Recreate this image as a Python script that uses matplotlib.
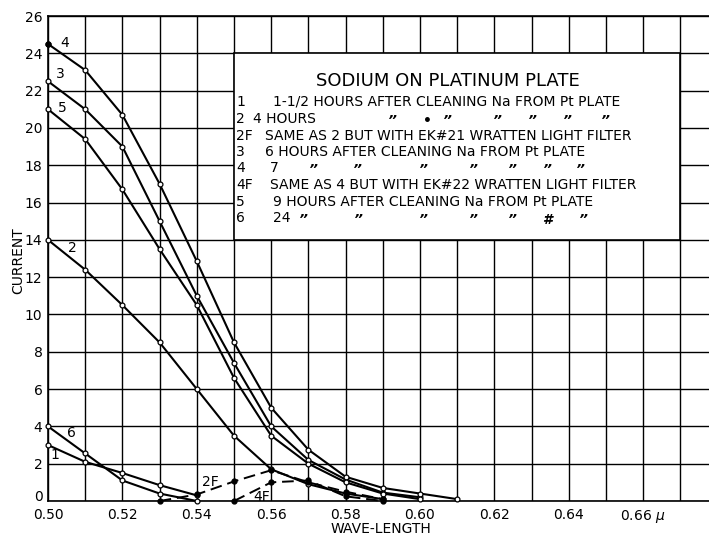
import matplotlib
matplotlib.use("Agg")
import matplotlib.pyplot as plt
from matplotlib.patches import Rectangle
from matplotlib.transforms import ScaledTranslation

# === Data (wave-length in microns, current in arbitrary units)
wl_1 = [0.50, 0.51, 0.52, 0.53, 0.54]
cur_1 = [3.0, 2.1, 1.5, 0.85, 0.3]

wl_6 = [0.50, 0.51, 0.52, 0.53, 0.54]
cur_6 = [4.0, 2.55, 1.1, 0.4, 0.0]

wl_2 = [0.50, 0.51, 0.52, 0.53, 0.54, 0.55, 0.56, 0.57, 0.58, 0.59]
cur_2 = [14.0, 12.4, 10.5, 8.5, 6.0, 3.5, 1.7, 0.9, 0.4, 0.1]

wl_2f = [0.53, 0.54, 0.55, 0.56, 0.57, 0.58, 0.59]
cur_2f = [0.0, 0.35, 1.05, 1.65, 1.0, 0.5, 0.1]

wl_4f = [0.55, 0.56, 0.57, 0.58, 0.59]
cur_4f = [0.0, 1.0, 1.1, 0.25, 0.0]

wl_3 = [0.50, 0.51, 0.52, 0.53, 0.54, 0.55, 0.56, 0.57, 0.58, 0.59, 0.60]
cur_3 = [22.5, 21.0, 19.0, 15.0, 11.0, 7.4, 4.0, 2.2, 1.15, 0.45, 0.2]

wl_4 = [0.50, 0.51, 0.52, 0.53, 0.54, 0.55, 0.56, 0.57, 0.58, 0.59, 0.60, 0.61]
cur_4 = [24.5, 23.1, 20.7, 17.0, 12.85, 8.5, 5.0, 2.75, 1.3, 0.7, 0.4, 0.1]

wl_5 = [0.50, 0.51, 0.52, 0.53, 0.54, 0.55, 0.56, 0.57, 0.58, 0.59, 0.60]
cur_5 = [21.0, 19.4, 16.7, 13.5, 10.5, 6.6, 3.5, 2.0, 1.0, 0.4, 0.1]

x_ticks = [0.50 + 0.01 * i for i in range(18)]
x_labels = ["0.50", "", "0.52", "", "0.54", "", "0.56", "", "0.58", "", "0.60", "",
            "0.62", "", "0.64", "", "0.66 $\\mu$", ""]
y_ticks = list(range(0, 27, 2))

legend_keys = ["1", "2", "2F", "3", "4", "4F", "5", "6"]
legend_texts = [
    "1-1/2 HOURS AFTER CLEANING Na FROM Pt PLATE",
    "4 HOURS",
    "SAME AS 2 BUT WITH EK#21 WRATTEN LIGHT FILTER",
    "6 HOURS AFTER CLEANING Na FROM Pt PLATE",
    "7",
    "SAME AS 4 BUT WITH EK#22 WRATTEN LIGHT FILTER",
    "9 HOURS AFTER CLEANING Na FROM Pt PLATE",
    "24",
]

W, H = 709, 538
X0, Y0 = 48, 501          # pixel of (0.50, 0)
PX_X, PX_Y = 3720, 18.65  # pixels per unit


def px(xp, yp):
    return 0.50 + (xp - X0) / PX_X, (Y0 - yp) / PX_Y


fig = plt.figure(figsize=(W / 100, H / 100), dpi=100)
ax = fig.add_axes([X0 / W, (H - Y0) / H, (W - X0) / W, (Y0 - 16) / H])
ax.set_xlim(0.50, 0.50 + (W - X0) / PX_X)
ax.set_ylim(0, 26)

ax.set_xticks(x_ticks)
ax.set_xticklabels(x_labels, fontsize=10)
ax.set_yticks(y_ticks)
ax.set_yticklabels([str(v) for v in y_ticks], fontsize=10)
ax.tick_params(length=0, pad=4)
ax.tick_params(axis="x", pad=5)
# lift the "0" a little so it clears "0.50"
zero_lbl = ax.get_yticklabels()[0]
zero_lbl.set_transform(zero_lbl.get_transform()
                       + ScaledTranslation(0, 4 / 72, fig.dpi_scale_trans))
ax.grid(True, color="black", linewidth=1.0)
ax.set_axisbelow(True)
for s in ["left", "bottom", "top"]:
    ax.spines[s].set_linewidth(1.2)
ax.spines["right"].set_visible(False)

# legend box sits on the grid and hides it
ax.add_patch(Rectangle((0.55, 14), 0.12, 10, facecolor="white",
                       edgecolor="black", linewidth=1.2, zorder=1.5))

solid = dict(color="black", linewidth=1.5, marker="o", markersize=3.5,
             markerfacecolor="white", markeredgewidth=0.9, zorder=3,
             clip_on=False)
dashed = dict(color="black", linewidth=1.4, linestyle=(0, (6, 3)), marker="o",
              markersize=3.5, markerfacecolor="black", zorder=3, clip_on=False)

ax.plot(wl_1, cur_1, **solid)
ax.plot(wl_6, cur_6, **solid)
ax.plot(wl_2, cur_2, **solid)
ax.plot(wl_3, cur_3, **solid)
ax.plot(wl_4, cur_4, **solid)
ax.plot(wl_5, cur_5, **solid)
ax.plot(wl_2f, cur_2f, **dashed)
ax.plot(wl_4f, cur_4f, **dashed)
ax.plot(wl_4[:1], cur_4[:1], "o", color="black", markersize=3.5, zorder=4,
        clip_on=False)

# curve numbers
for lab, (xp, yp) in zip(["4", "3", "5", "2", "6", "1", "2F", "4F"],
                         [(65, 43), (60, 74), (62, 108), (72, 248),
                          (71, 433), (55, 455), (210, 482), (262, 497)]):
    ax.text(*px(xp, yp), lab, fontsize=10, ha="center", va="center", zorder=5)

# legend text
ax.text(*px(448, 81), "SODIUM ON PLATINUM PLATE", fontsize=13,
        ha="center", va="center", zorder=5)
row_y = [102, 119, 136, 152, 168, 185, 202, 218]
text_x = [273, 253, 265, 265, 270, 270, 273, 273]
for key, txt, yp, xp in zip(legend_keys, legend_texts, row_y, text_x):
    ax.text(*px(236, yp), key, fontsize=10, ha="left", va="center", zorder=5)
    ax.text(*px(xp, yp), txt, fontsize=10, ha="left", va="center", zorder=5)

dittos = {
    119: ([392, 427, 447, 497, 532, 567, 605], "”•”””””"),
    168: ([313, 357, 423, 473, 512, 547, 580], "”””””””"),
    218: ([303, 358, 423, 473, 512, 547, 583], "”””””#”"),
}
for yp, (xs, marks) in dittos.items():
    for xp, m in zip(xs, marks):
        ax.text(*px(xp, yp + 2), m, fontsize=10, ha="center", va="center",
                style="italic", fontweight="bold", zorder=5)

fig.text(18 / W, 1 - 261 / H, "CURRENT", rotation=90, fontsize=10,
         ha="center", va="center")
fig.text(381 / W, 1 - 529 / H, "WAVE-LENGTH", fontsize=10,
         ha="center", va="center")

fig.savefig("out.png", dpi=100)
